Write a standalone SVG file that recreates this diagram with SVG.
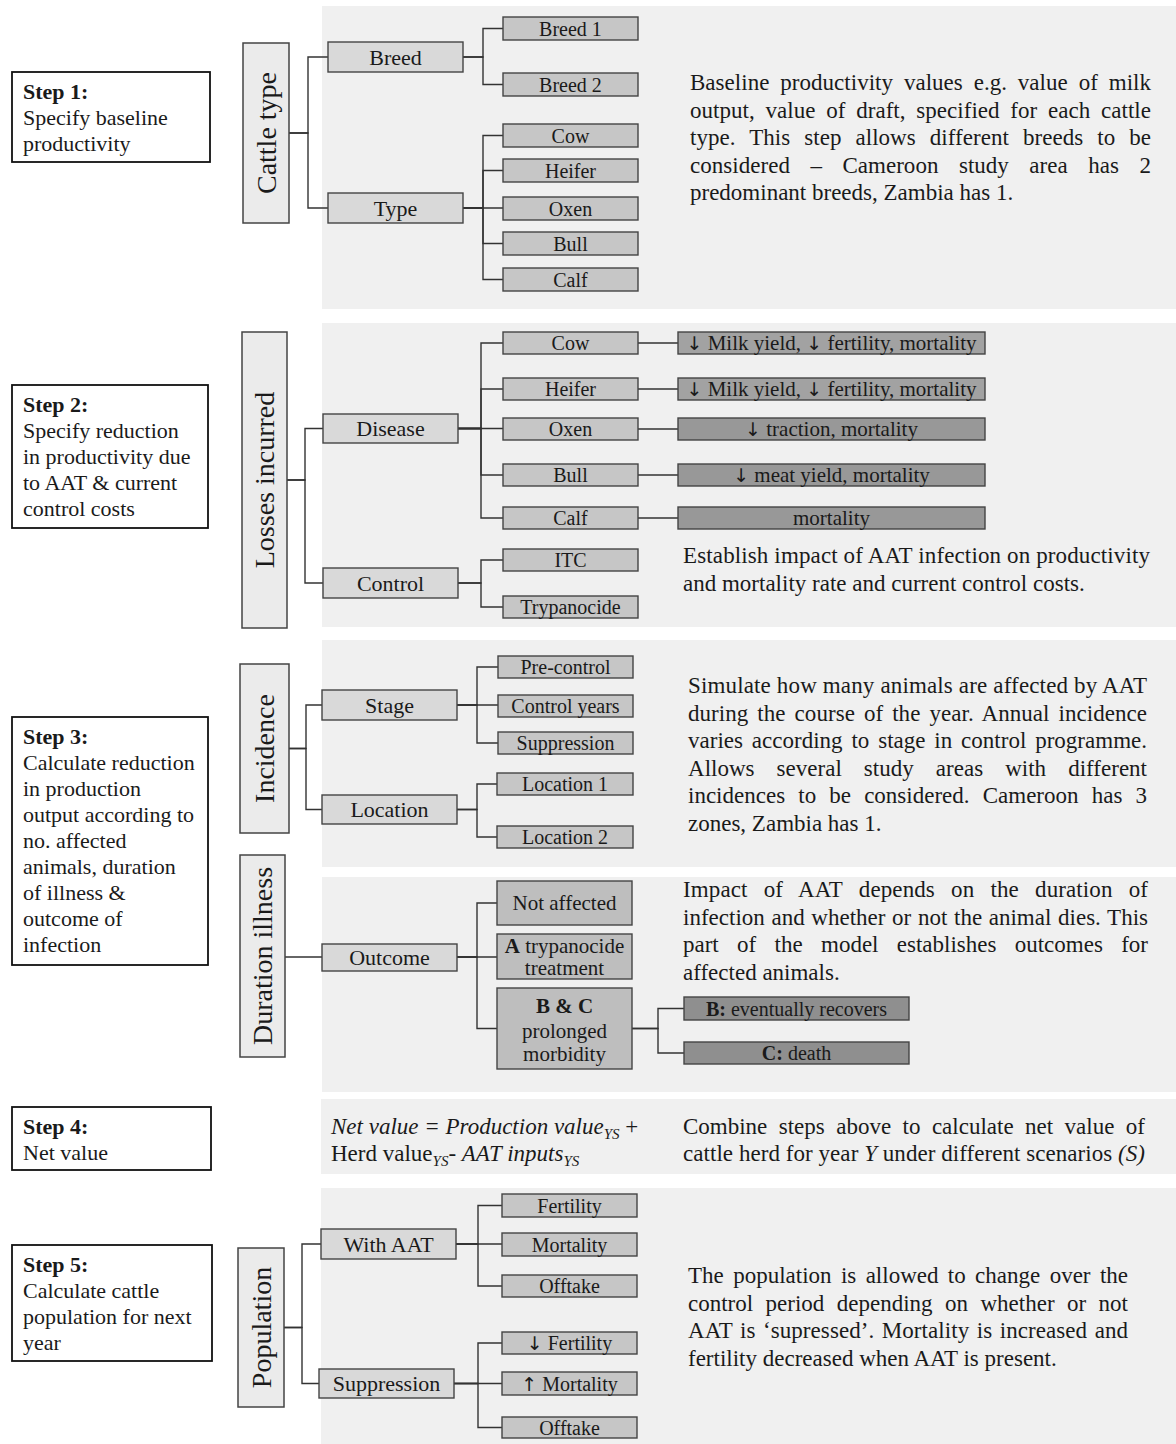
<svg xmlns="http://www.w3.org/2000/svg" width="1176" height="1444" viewBox="0 0 1176 1444">
<style>
text{font-family:"Liberation Serif","Times New Roman",serif;fill:#1a1a1a}
.panel{fill:#f0f0f0}
.step rect{fill:#ffffff;stroke:#111;stroke-width:1.8}
.step text{font-size:22px}
.b{font-weight:bold}
.i{font-style:italic}
.ar{font-family:"DejaVu Sans",sans-serif;font-size:19px}
.vl rect{fill:#ebebeb;stroke:#444;stroke-width:1.5}
.vl text{font-size:28px;text-anchor:middle;dominant-baseline:central}
.n1 rect{fill:#d9d9d9;stroke:#444;stroke-width:1.4}
.n1 text{font-size:22px;text-anchor:middle;dominant-baseline:central}
.lf rect{fill:#c6c6c6;stroke:#444;stroke-width:1.4}
.lf text{font-size:20px;text-anchor:middle;dominant-baseline:central}
.ef rect{fill:#989898;stroke:#444;stroke-width:1.4}
.ef.lt rect{fill:#a2a2a2}
.ef text{font-size:21px;text-anchor:middle;dominant-baseline:central}
.oc rect{fill:#bebebe;stroke:#444;stroke-width:1.4}
.oc text{font-size:21px;text-anchor:middle;dominant-baseline:central}
.bc rect{fill:#8f8f8f;stroke:#444;stroke-width:1.4}
.bc text{font-size:20px;text-anchor:middle;dominant-baseline:central}
.p{font-size:23px}
.sub{font-size:15px;font-style:italic}
#connectors path{fill:none;stroke:#333;stroke-width:1.4}
</style>

<!-- background panels -->
<rect class="panel" x="322" y="6" width="854" height="303"/>
<rect class="panel" x="322" y="323" width="854" height="304"/>
<rect class="panel" x="322" y="640" width="854" height="227"/>
<rect class="panel" x="322" y="877" width="854" height="215"/>
<rect class="panel" x="321" y="1099" width="855" height="75"/>
<rect class="panel" x="321" y="1188" width="855" height="256"/>

<!-- connectors -->
<g id="connectors">
<path d="M289,133H308V57H328"/>
<path d="M289,133H308V208H328"/>
<path d="M463,57H483V28.5H503"/>
<path d="M463,57H483V84.5H503"/>
<path d="M463,208H483V135.5H503"/>
<path d="M463,208H483V170.5H503"/>
<path d="M463,208H503"/>
<path d="M463,208H483V243.5H503"/>
<path d="M463,208H483V279.5H503"/>

<path d="M287,480H305V428.5H323"/>
<path d="M287,480H305V583H323"/>
<path d="M458,428.5H481V343H503"/>
<path d="M458,428.5H481V389H503"/>
<path d="M458,428.5H503"/>
<path d="M458,428.5H481V475H503"/>
<path d="M458,428.5H481V518H503"/>
<path d="M458,583H481V560H503"/>
<path d="M458,583H481V607H503"/>
<path d="M638,343H678"/>
<path d="M638,389H678"/>
<path d="M638,429H678"/>
<path d="M638,475H678"/>
<path d="M638,518H678"/>

<path d="M289,748.5H306V705H322"/>
<path d="M289,748.5H306V809.5H322"/>
<path d="M457,705H477V667H498"/>
<path d="M457,705H498"/>
<path d="M457,705H477V743H498"/>
<path d="M457,809.5H477V784H497"/>
<path d="M457,809.5H477V837H497"/>

<path d="M285,957H322"/>
<path d="M457,957H477V903H497"/>
<path d="M457,957H497"/>
<path d="M457,957H477V1028.5H497"/>
<path d="M632,1028.5H658V1008.5H684"/>
<path d="M632,1028.5H658V1053H684"/>

<path d="M284,1327.5H302V1244H321"/>
<path d="M284,1327.5H302V1383.5H319"/>
<path d="M456,1244H478V1205.5H502"/>
<path d="M456,1244H502"/>
<path d="M456,1244H478V1286H502"/>
<path d="M454,1383.5H478V1343H502"/>
<path d="M454,1383.5H502"/>
<path d="M454,1383.5H478V1427.5H502"/>
</g>

<!-- step boxes -->
<g id="step1" class="step"><rect x="12" y="72" width="198" height="90"/>
<text x="23" y="99"><tspan class="b">Step 1:</tspan><tspan x="23" y="125">Specify baseline</tspan><tspan x="23" y="151">productivity</tspan></text></g>
<g id="step2" class="step"><rect x="12" y="385" width="196" height="143"/>
<text x="23" y="412"><tspan class="b">Step 2:</tspan><tspan x="23" y="438">Specify reduction</tspan><tspan x="23" y="464">in productivity due</tspan><tspan x="23" y="490">to AAT &amp; current</tspan><tspan x="23" y="516">control costs</tspan></text></g>
<g id="step3" class="step"><rect x="12" y="717" width="196" height="248"/>
<text x="23" y="744"><tspan class="b">Step 3:</tspan><tspan x="23" y="770">Calculate reduction</tspan><tspan x="23" y="796">in production</tspan><tspan x="23" y="822">output according to</tspan><tspan x="23" y="848">no. affected</tspan><tspan x="23" y="874">animals, duration</tspan><tspan x="23" y="900">of illness &amp;</tspan><tspan x="23" y="926">outcome of</tspan><tspan x="23" y="952">infection</tspan></text></g>
<g id="step4" class="step"><rect x="12" y="1107" width="199" height="63"/>
<text x="23" y="1134"><tspan class="b">Step 4:</tspan><tspan x="23" y="1160">Net value</tspan></text></g>
<g id="step5" class="step"><rect x="12" y="1245" width="200" height="116"/>
<text x="23" y="1272"><tspan class="b">Step 5:</tspan><tspan x="23" y="1298">Calculate cattle</tspan><tspan x="23" y="1324">population for next</tspan><tspan x="23" y="1350">year</tspan></text></g>

<!-- Step 1 tree -->
<g id="cattle-type" class="vl"><rect x="243" y="43" width="46" height="180"/><text x="266" y="133" transform="rotate(-90 266 133)">Cattle type</text></g>
<g id="breed" class="n1"><rect x="328" y="42" width="135" height="30"/><text x="395.5" y="57">Breed</text></g>
<g id="type" class="n1"><rect x="328" y="193" width="135" height="30"/><text x="395.5" y="208">Type</text></g>
<g id="breed1" class="lf"><rect x="503" y="17" width="135" height="23"/><text x="570.5" y="28.5">Breed 1</text></g>
<g id="breed2" class="lf"><rect x="503" y="73" width="135" height="23"/><text x="570.5" y="84.5">Breed 2</text></g>
<g id="t-cow" class="lf"><rect x="503" y="124" width="135" height="23"/><text x="570.5" y="135.5">Cow</text></g>
<g id="t-heifer" class="lf"><rect x="503" y="159" width="135" height="23"/><text x="570.5" y="170.5">Heifer</text></g>
<g id="t-oxen" class="lf"><rect x="503" y="197" width="135" height="23"/><text x="570.5" y="208.5">Oxen</text></g>
<g id="t-bull" class="lf"><rect x="503" y="232" width="135" height="23"/><text x="570.5" y="243.5">Bull</text></g>
<g id="t-calf" class="lf"><rect x="503" y="268" width="135" height="23"/><text x="570.5" y="279.5">Calf</text></g>

<text class="p" x="690" y="90" word-spacing="5.1" textLength="461" lengthAdjust="spacing">Baseline productivity values e.g. value of milk</text>
<text class="p" x="690" y="117.5" word-spacing="5" textLength="461" lengthAdjust="spacing">output, value of draft, specified for each cattle</text>
<text class="p" x="690" y="145" word-spacing="8.2" textLength="461" lengthAdjust="spacing">type. This step allows different breeds to be</text>
<text class="p" x="690" y="172.5" word-spacing="14.7" textLength="461" lengthAdjust="spacing">considered – Cameroon study area has 2</text>
<text class="p" x="690" y="200">predominant breeds, Zambia has 1.</text>

<!-- Step 2 tree -->
<g id="losses" class="vl"><rect x="242" y="332" width="45" height="296"/><text x="264.5" y="480" transform="rotate(-90 264.5 480)">Losses incurred</text></g>
<g id="disease" class="n1"><rect x="323" y="414" width="135" height="29"/><text x="390.5" y="428.5">Disease</text></g>
<g id="control" class="n1"><rect x="323" y="568" width="135" height="30"/><text x="390.5" y="583">Control</text></g>
<g id="d-cow" class="lf"><rect x="503" y="332" width="135" height="22"/><text x="570.5" y="343">Cow</text></g>
<g id="d-heifer" class="lf"><rect x="503" y="378" width="135" height="22"/><text x="570.5" y="389">Heifer</text></g>
<g id="d-oxen" class="lf"><rect x="503" y="418" width="135" height="22"/><text x="570.5" y="429">Oxen</text></g>
<g id="d-bull" class="lf"><rect x="503" y="464" width="135" height="22"/><text x="570.5" y="475">Bull</text></g>
<g id="d-calf" class="lf"><rect x="503" y="507" width="135" height="22"/><text x="570.5" y="518">Calf</text></g>
<g id="itc" class="lf"><rect x="503" y="549" width="135" height="22"/><text x="570.5" y="560">ITC</text></g>
<g id="trypanocide" class="lf"><rect x="503" y="596" width="135" height="22"/><text x="570.5" y="607">Trypanocide</text></g>
<g id="e-cow" class="ef lt"><rect x="678" y="332" width="307" height="22"/><text x="831.5" y="343"><tspan class="ar">↓</tspan> Milk yield, <tspan class="ar">↓</tspan> fertility, mortality</text></g>
<g id="e-heifer" class="ef lt"><rect x="678" y="378" width="307" height="22"/><text x="831.5" y="389"><tspan class="ar">↓</tspan> Milk yield, <tspan class="ar">↓</tspan> fertility, mortality</text></g>
<g id="e-oxen" class="ef"><rect x="678" y="418" width="307" height="22"/><text x="831.5" y="429"><tspan class="ar">↓</tspan> traction, mortality</text></g>
<g id="e-bull" class="ef"><rect x="678" y="464" width="307" height="22"/><text x="831.5" y="475"><tspan class="ar">↓</tspan> meat yield, mortality</text></g>
<g id="e-calf" class="ef"><rect x="678" y="507" width="307" height="22"/><text x="831.5" y="518">mortality</text></g>

<text class="p" x="683" y="563" textLength="467" lengthAdjust="spacing">Establish impact of AAT infection on productivity</text>
<text class="p" x="683" y="591">and mortality rate and current control costs.</text>

<!-- Step 3 trees -->
<g id="incidence" class="vl"><rect x="240" y="664" width="49" height="169"/><text x="264.5" y="748.5" transform="rotate(-90 264.5 748.5)">Incidence</text></g>
<g id="stage" class="n1"><rect x="322" y="690" width="135" height="30"/><text x="389.5" y="705">Stage</text></g>
<g id="location" class="n1"><rect x="322" y="795" width="135" height="29"/><text x="389.5" y="809.5">Location</text></g>
<g id="precontrol" class="lf"><rect x="498" y="656" width="135" height="22"/><text x="565.5" y="667">Pre-control</text></g>
<g id="controlyears" class="lf"><rect x="498" y="695" width="135" height="22"/><text x="565.5" y="706">Control years</text></g>
<g id="suppression-stage" class="lf"><rect x="498" y="732" width="135" height="22"/><text x="565.5" y="743">Suppression</text></g>
<g id="location1" class="lf"><rect x="497" y="773" width="136" height="22"/><text x="565" y="784">Location 1</text></g>
<g id="location2" class="lf"><rect x="497" y="826" width="136" height="22"/><text x="565" y="837">Location 2</text></g>

<text class="p" x="688" y="693" textLength="459" lengthAdjust="spacing">Simulate how many animals are affected by AAT</text>
<text class="p" x="688" y="720.5" word-spacing="3.2" textLength="459" lengthAdjust="spacing">during the course of the year. Annual incidence</text>
<text class="p" x="688" y="748" word-spacing="3.1" textLength="459" lengthAdjust="spacing">varies according to stage in control programme.</text>
<text class="p" x="688" y="775.5" word-spacing="16.3" textLength="459" lengthAdjust="spacing">Allows several study areas with different</text>
<text class="p" x="688" y="803" word-spacing="7.4" textLength="459" lengthAdjust="spacing">incidences to be considered. Cameroon has 3</text>
<text class="p" x="688" y="830.5">zones, Zambia has 1.</text>

<g id="duration" class="vl"><rect x="240" y="855" width="45" height="202"/><text x="262.5" y="956" transform="rotate(-90 262.5 956)">Duration illness</text></g>
<g id="outcome" class="n1"><rect x="322" y="944" width="135" height="27"/><text x="389.5" y="957.5">Outcome</text></g>
<g id="notaffected" class="oc"><rect x="497" y="881" width="135" height="44"/><text x="564.5" y="903">Not affected</text></g>
<g id="a-treatment" class="oc"><rect x="497" y="934" width="135" height="45"/><text x="564.5" y="946"><tspan class="b">A</tspan> trypanocide</text><text x="564.5" y="968">treatment</text></g>
<g id="bc-morbidity" class="oc"><rect x="497" y="988" width="135" height="81"/><text x="564.5" y="1006" class="b">B &amp; C</text><text x="564.5" y="1031">prolonged</text><text x="564.5" y="1054">morbidity</text></g>
<g id="b-recovers" class="bc"><rect x="684" y="997" width="225" height="23"/><text x="796.5" y="1008.5"><tspan class="b">B:</tspan> eventually recovers</text></g>
<g id="c-death" class="bc"><rect x="684" y="1042" width="225" height="22"/><text x="796.5" y="1053"><tspan class="b">C:</tspan> death</text></g>

<text class="p" x="683" y="897" word-spacing="10.3" textLength="465" lengthAdjust="spacing">Impact of AAT depends on the duration of</text>
<text class="p" x="683" y="924.5" word-spacing="0.9" textLength="465" lengthAdjust="spacing">infection and whether or not the animal dies. This</text>
<text class="p" x="683" y="952" word-spacing="12.6" textLength="465" lengthAdjust="spacing">part of the model establishes outcomes for</text>
<text class="p" x="683" y="979.5">affected animals.</text>

<!-- Step 4 -->
<text class="p" x="331" y="1134"><tspan class="i">Net value = Production value</tspan><tspan class="sub" dy="5">YS</tspan><tspan dy="-5"> +</tspan></text>
<text class="p" x="331" y="1161">Herd value<tspan class="sub" dy="5">YS</tspan><tspan dy="-5">- </tspan><tspan class="i">AAT inputs</tspan><tspan class="sub" dy="5">YS</tspan></text>
<text class="p" x="683" y="1134" word-spacing="5.7" textLength="462" lengthAdjust="spacing">Combine steps above to calculate net value of</text>
<text class="p" x="683" y="1161" textLength="462" lengthAdjust="spacing">cattle herd for year <tspan class="i">Y</tspan> under different scenarios <tspan class="i">(S)</tspan></text>

<!-- Step 5 tree -->
<g id="population" class="vl"><rect x="238" y="1248" width="46" height="159"/><text x="261" y="1327.5" transform="rotate(-90 261 1327.5)">Population</text></g>
<g id="withaat" class="n1"><rect x="321" y="1229" width="135" height="30"/><text x="388.5" y="1244">With AAT</text></g>
<g id="suppression" class="n1"><rect x="319" y="1369" width="135" height="29"/><text x="386.5" y="1383.5">Suppression</text></g>
<g id="w-fertility" class="lf"><rect x="502" y="1194" width="135" height="23"/><text x="569.5" y="1205.5">Fertility</text></g>
<g id="w-mortality" class="lf"><rect x="502" y="1233" width="135" height="23"/><text x="569.5" y="1244.5">Mortality</text></g>
<g id="w-offtake" class="lf"><rect x="502" y="1275" width="135" height="22"/><text x="569.5" y="1286">Offtake</text></g>
<g id="s-fertility" class="lf"><rect x="502" y="1332" width="135" height="22"/><text x="569.5" y="1343"><tspan class="ar">↓</tspan> Fertility</text></g>
<g id="s-mortality" class="lf"><rect x="502" y="1372" width="135" height="23"/><text x="569.5" y="1383.5"><tspan class="ar">↑</tspan> Mortality</text></g>
<g id="s-offtake" class="lf"><rect x="502" y="1417" width="135" height="21"/><text x="569.5" y="1427.5">Offtake</text></g>

<text class="p" x="688" y="1283" word-spacing="3.6" textLength="440" lengthAdjust="spacing">The population is allowed to change over the</text>
<text class="p" x="688" y="1310.5" word-spacing="6.7" textLength="440" lengthAdjust="spacing">control period depending on whether or not</text>
<text class="p" x="688" y="1338" word-spacing="1.7" textLength="440" lengthAdjust="spacing">AAT is ‘supressed’. Mortality is increased and</text>
<text class="p" x="688" y="1365.5">fertility decreased when AAT is present.</text>
</svg>
